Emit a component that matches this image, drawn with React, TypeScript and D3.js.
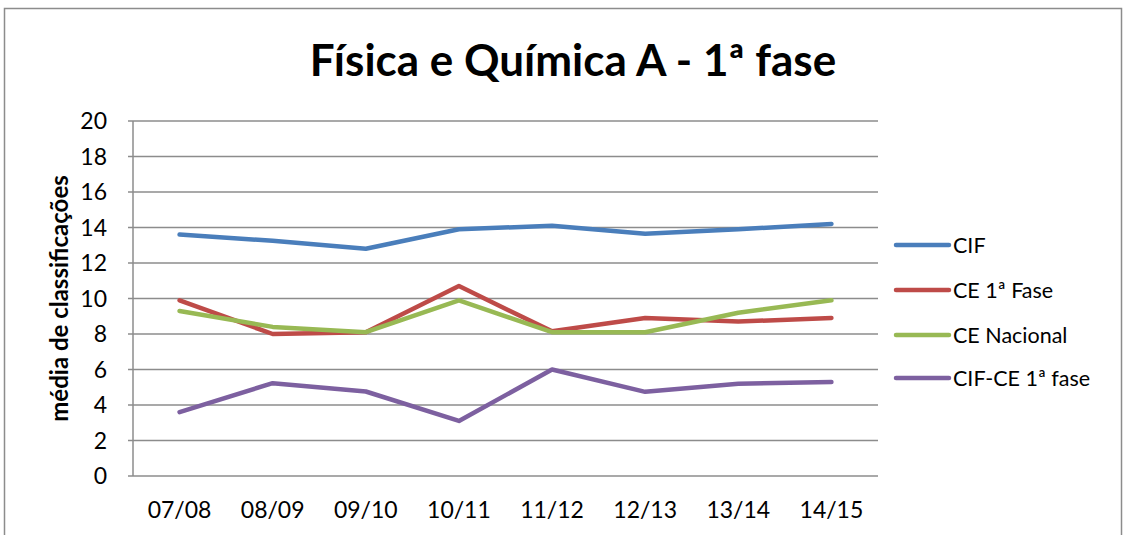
import React, { useEffect, useRef } from "react";
import * as d3 from "d3";

const categories = ["07/08", "08/09", "09/10", "10/11", "11/12", "12/13", "13/14", "14/15"];
const cif = [13.6, 13.25, 12.8, 13.9, 14.1, 13.65, 13.9, 14.2];
const ce1Fase = [9.9, 8.0, 8.1, 10.7, 8.15, 8.9, 8.7, 8.9];
const ceNacional = [9.3, 8.4, 8.1, 9.9, 8.1, 8.1, 9.2, 9.9];
const cifMinusCe = [3.6, 5.23, 4.76, 3.1, 6.0, 4.74, 5.2, 5.3];
const seriesNames = ["CIF", "CE 1ª Fase", "CE Nacional", "CIF-CE 1ª fase"];
const seriesColors = ["#4a7ebb", "#be4b48", "#98b954", "#7d60a0"];
const yTicks = [0, 2, 4, 6, 8, 10, 12, 14, 16, 18, 20];
const title = "Física e Química A - 1ª fase";
const yTitle = "média de classificações";

const FONT = "Lato, 'Open Sans', sans-serif";

export default function App() {
  const ref = useRef<SVGSVGElement | null>(null);
  useEffect(() => {
    const svg = d3.select(ref.current);
    svg.selectAll("*").remove();
    const W = 1128, H = 535;
    const left = 133, right = 878, top = 121, bottom = 476;
    const data = [cif, ce1Fase, ceNacional, cifMinusCe];

    svg.append("rect").attr("x", 4.5).attr("y", 8.5).attr("width", 1117).attr("height", 540)
      .attr("fill", "white").attr("stroke", "#8c8c8c").attr("stroke-width", 1.5);

    const x = d3.scaleBand<string>().domain(categories).range([left, right]);
    const y = d3.scaleLinear().domain([0, 20]).range([bottom, top]);

    svg.append("g").selectAll("line").data(yTicks).join("line")
      .attr("x1", left - 5).attr("x2", right)
      .attr("y1", d => y(d)).attr("y2", d => y(d))
      .attr("stroke", "#8c8c8c").attr("stroke-width", 1.5);
    svg.append("line").attr("x1", left).attr("x2", left).attr("y1", top).attr("y2", bottom)
      .attr("stroke", "#8c8c8c").attr("stroke-width", 1.5);

    svg.append("g").selectAll("text").data(yTicks).join("text")
      .attr("x", left - 26).attr("y", d => y(d)).attr("dy", "0.36em")
      .attr("text-anchor", "end").attr("font-family", FONT).attr("font-size", 23)
      .attr("fill", "#000").text(d => String(d));

    svg.append("g").selectAll("text").data(categories).join("text")
      .attr("x", d => (x(d) as number) + x.bandwidth() / 2).attr("y", 518)
      .attr("text-anchor", "middle").attr("font-family", FONT).attr("font-size", 23)
      .attr("fill", "#000").text(d => d);

    const line = d3.line<number>()
      .x((_, i) => (x(categories[i]) as number) + x.bandwidth() / 2)
      .y(d => y(d));

    data.forEach((s, i) => {
      svg.append("path").attr("d", line(s)).attr("fill", "none")
        .attr("stroke", seriesColors[i]).attr("stroke-width", 4.5)
        .attr("stroke-linecap", "round").attr("stroke-linejoin", "round");
    });

    const legendY = [245, 290, 335, 378];
    seriesNames.forEach((n, i) => {
      svg.append("line").attr("x1", 896).attr("x2", 949).attr("y1", legendY[i]).attr("y2", legendY[i])
        .attr("stroke", seriesColors[i]).attr("stroke-width", 4.5).attr("stroke-linecap", "round");
      svg.append("text").attr("x", 953).attr("y", legendY[i]).attr("dy", "0.36em")
        .attr("font-family", FONT).attr("font-size", 21.5).attr("fill", "#000").text(n);
    });

    svg.append("text").attr("x", 573).attr("y", 76).attr("text-anchor", "middle")
      .attr("font-family", FONT).attr("font-weight", "bold").attr("font-size", 44)
      .attr("fill", "#000").text(title);

    svg.append("text").attr("transform", `translate(68,${(top + bottom) / 2}) rotate(-90)`)
      .attr("text-anchor", "middle").attr("font-family", FONT).attr("font-weight", "bold")
      .attr("font-size", 24).attr("fill", "#000").text(yTitle);

    svg.attr("width", W).attr("height", H);
  }, []);
  return (
    <svg ref={ref} width={1128} height={535}
      style={{ position: "absolute", left: 0, top: 0, display: "block" }} />
  );
}
